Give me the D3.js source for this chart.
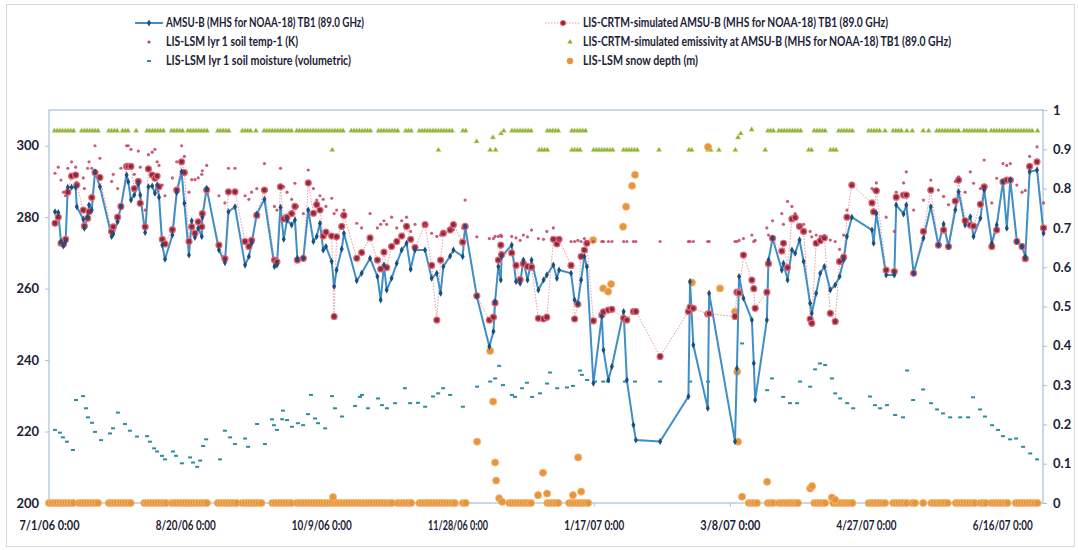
<!DOCTYPE html>
<html>
<head>
<meta charset="utf-8">
<script src="https://cdn.jsdelivr.net/npm/d3@7"></script>
<style>
  body { margin: 0; background: #fff; }
  svg text { font-family: Lato, "Open Sans", sans-serif; font-weight: bold; fill: #1b2236; }
</style>
</head>
<body>
<svg id="chart" width="1078" height="550"></svg>
<script>
// days are counted from 7/1/06 0:00
const obsDays = [
  2.2, 3.4, 4.4, 5.3, 6.1, 6.9, 8.3, 9.8, 10.2, 12.6,
  13.0, 14.2, 14.7, 15.7, 16.9, 18.7, 23.0, 23.6, 25.2, 26.4,
  28.5, 29.1, 30.1, 31.3, 32.8, 33.5, 35.3, 36.5, 37.9, 38.9,
  39.7, 40.4, 41.6, 42.6, 45.3, 46.9, 48.7, 49.7, 51.4, 52.4,
  53.6, 54.8, 56.1, 56.3, 57.9, 62.4, 64.6, 65.9, 68.3, 72.0,
  73.4, 74.4, 76.3, 79.1, 82.8, 83.7, 85.0, 86.2, 87.4, 89.1,
  90.3, 91.2, 93.4, 95.2, 97.1, 98.3, 99.5, 100.7, 101.7, 103.8,
  104.7, 105.6, 107.5, 108.3, 113.0, 114.8, 117.9, 120.6, 121.8, 123.0,
  124.0, 125.8, 127.7, 129.5, 131.3, 132.8, 134.4, 138.1, 140.5, 142.4,
  143.8, 144.8, 147.3, 148.5, 151.9, 152.8, 157.1, 161.7, 163.2, 163.8,
  165.0, 165.9, 166.2, 169.9, 171.5, 173.0, 174.2, 175.7, 177.2, 179.7,
  181.6, 182.8, 185.2, 186.5, 187.3, 191.7, 193.0, 194.2, 195.4, 196.6,
  197.5, 199.9, 203.0, 203.6, 205.4, 206.7, 211.0, 212.2, 214.6, 215.5,
  224.4, 234.8, 235.4, 236.6, 241.9, 242.4, 251.9, 252.6, 253.4, 255.0,
  258.1, 258.8, 259.3, 263.6, 264.2, 265.7, 269.1, 269.7, 271.2, 272.8,
  274.0, 275.6, 277.1, 279.5, 280.1, 281.7, 283.2, 284.7, 286.9, 288.7,
  290.3, 291.8, 293.0, 294.8, 302.2, 302.8, 303.8, 307.4, 310.4, 311.1,
  313.8, 314.8, 317.5, 321.1, 323.8, 326.6, 328.5, 330.3, 332.8, 334.0,
  336.4, 338.3, 339.5, 342.0, 343.4, 346.2, 348.0, 350.3, 351.7, 353.0,
  355.4, 357.3, 358.5, 360.1, 362.8, 365.2
];
const amsuTb = [
  281.5, 281.3, 273.2, 271.9, 273.2, 288.4, 288.4, 288.4, 282.9, 279.4,
  276.9, 280.1, 283.4, 282.0, 292.7, 288.5, 274.6, 275.3, 278.7, 282.9,
  291.8, 289.9, 284.8, 286.2, 289.3, 286.2, 275.7, 288.5, 288.7, 286.7,
  289.0, 285.6, 272.2, 268.2, 275.0, 286.9, 292.7, 283.9, 269.4, 279.0,
  274.4, 276.9, 274.6, 280.0, 288.1, 270.8, 267.3, 281.5, 282.9, 266.6,
  269.0, 272.7, 280.9, 285.0, 266.2, 266.6, 282.8, 273.8, 279.2, 277.8,
  279.2, 268.5, 268.5, 282.0, 273.2, 274.6, 278.3, 270.8, 271.8, 267.6,
  260.6, 265.2, 271.1, 275.5, 262.2, 264.3, 268.5, 263.4, 256.8, 266.6,
  259.6, 262.9, 267.1, 270.8, 272.7, 265.4, 270.8, 270.8, 262.9, 264.3,
  258.7, 266.2, 269.1, 270.8, 269.0, 277.4, 257.8, 243.8, 248.0, 256.4,
  266.2, 262.4, 269.0, 272.2, 262.0, 261.5, 268.0, 262.4, 268.0, 259.6,
  262.4, 263.8, 266.6, 262.9, 265.2, 264.3, 256.8, 255.9, 262.4, 269.0,
  266.2, 233.5, 252.2, 242.8, 234.4, 238.2, 253.6, 234.4, 221.8, 217.6,
  217.2, 229.8, 262.0, 244.2, 226.5, 258.7, 217.2, 237.7, 263.4, 257.3,
  251.2, 239.1, 228.8, 251.2, 268.0, 274.1, 265.2, 267.1, 262.4, 270.8,
  269.9, 273.6, 267.6, 255.9, 253.1, 258.7, 264.3, 266.2, 259.6, 261.0,
  263.4, 268.0, 274.6, 280.0, 276.4, 272.7, 281.1, 263.8, 263.8, 283.4,
  280.9, 283.4, 264.3, 274.1, 282.9, 272.2, 278.1, 271.8, 282.0, 287.1,
  277.8, 280.1, 274.6, 279.7, 287.6, 272.7, 277.8, 289.9, 276.9, 290.4,
  273.2, 271.8, 269.0, 292.7, 293.2, 275.5
];
const crtmTb = [
  278.3, 280.0, 272.7, 272.5, 273.8, 287.0, 291.5, 291.8, 289.0, 282.0,
  277.5, 279.7, 281.5, 285.5, 292.5, 291.1, 276.0, 277.3, 280.0, 283.0,
  294.2, 294.2, 294.2, 288.0, 290.0, 283.9, 277.3, 293.5, 291.8, 290.9,
  291.5, 288.5, 273.8, 272.5, 276.5, 287.6, 295.5, 292.5, 273.2, 277.3,
  275.5, 278.7, 277.3, 281.0, 287.6, 272.2, 268.4, 287.1, 287.1, 273.2,
  271.8, 273.5, 280.5, 287.6, 268.0, 267.5, 288.5, 279.5, 280.0, 281.0,
  283.0, 268.0, 268.5, 289.6, 281.1, 283.5, 282.0, 274.7, 275.8, 274.7,
  252.2, 274.5, 277.4, 280.5, 268.5, 270.1, 274.2, 268.0, 265.5, 270.2,
  265.9, 271.8, 273.2, 274.7, 277.4, 273.8, 271.5, 277.9, 266.5, 251.2,
  268.0, 275.5, 276.4, 277.9, 273.0, 277.4, 258.0, 251.2, 252.0, 256.0,
  268.0, 272.2, 269.5, 270.0, 266.5, 262.5, 267.0, 266.2, 266.0, 251.7,
  251.5, 252.0, 273.8, 272.5, 273.8, 266.5, 251.5, 255.6, 269.0, 270.8,
  272.7, 251.0, 252.6, 253.5, 254.0, 254.2, 251.7, 251.2, 253.6, 253.6,
  241.0, 253.6, 254.8, 254.5, 252.9, 253.0, 252.2, 259.0, 258.8, 269.4,
  262.4, 260.0, 254.5, 259.0, 267.0, 274.1, 270.5, 272.7, 265.9, 279.5,
  279.9, 277.4, 276.0, 251.5, 250.3, 272.7, 273.4, 274.2, 253.1, 250.8,
  267.6, 268.8, 280.0, 289.0, 284.0, 281.5, 287.4, 265.2, 264.8, 285.6,
  286.2, 286.2, 264.3, 276.0, 287.6, 272.2, 276.4, 271.8, 284.5, 290.4,
  279.0, 277.8, 277.5, 283.6, 288.5, 271.8, 276.4, 289.9, 290.4, 290.4,
  273.2, 271.8, 268.4, 294.2, 295.5, 277.0
];
const soilTempK = [
  292.3, 294.0, 290.4, 287.0, 286.0, 293.7, 295.5, 294.0, 289.6, 291.0,
  288.0, 293.7, 295.5, 293.7, 300.0, 296.5, 290.0, 292.0, 288.0, 293.7,
  300.0, 300.0, 299.0, 292.0, 298.5, 294.0, 282.0, 297.5, 298.2, 299.0,
  295.5, 294.5, 289.0, 286.0, 291.0, 295.5, 300.0, 297.0, 287.0, 290.5,
  290.5, 291.0, 292.0, 293.0, 294.5, 286.0, 284.0, 293.7, 293.7, 286.0,
  285.0, 287.0, 288.0, 295.0, 283.0, 282.0, 293.7, 288.5, 287.0, 285.0,
  289.5, 283.0, 281.0, 293.2, 288.0, 284.8, 286.0, 285.0, 283.0, 285.3,
  281.0, 282.0, 280.5, 282.0, 278.3, 277.0, 281.0, 277.0, 278.0, 279.0,
  278.0, 280.0, 277.0, 279.0, 280.0, 276.0, 278.0, 277.8, 275.5, 274.6,
  275.0, 276.0, 277.0, 276.5, 277.0, 284.8, 274.5, 274.0, 274.0, 274.6,
  274.6, 275.0, 274.6, 274.6, 274.2, 273.5, 275.0, 274.5, 276.4, 274.0,
  273.8, 276.0, 277.0, 274.0, 273.5, 273.2, 273.2, 273.5, 273.2, 274.0,
  273.2, 273.2, 273.2, 273.2, 273.2, 273.2, 273.2, 273.2, 273.2, 273.2,
  273.2, 273.2, 273.2, 273.2, 273.2, 273.2, 273.2, 273.2, 273.5, 274.0,
  275.0, 273.2, 273.5, 277.0, 275.0, 279.0, 281.0, 278.0, 284.4, 283.0,
  281.0, 277.5, 278.0, 276.0, 274.5, 275.0, 274.6, 274.8, 273.6, 273.2,
  271.0, 275.0, 282.0, 289.5, 288.0, 287.6, 289.6, 280.0, 276.0, 287.0,
  289.6, 292.7, 282.0, 284.8, 290.4, 287.6, 285.8, 283.5, 290.0, 291.3,
  287.0, 292.7, 289.5, 288.0, 296.0, 284.0, 290.9, 295.0, 294.5, 295.0,
  289.0, 287.0, 287.5, 297.0, 299.7, 284.0
];

const moistDays = [
  2.2, 4.0, 5.1, 6.6, 8.8, 9.9, 12.5, 13.6, 14.3, 15.8,
  16.9, 19.1, 22.4, 23.5, 25.3, 27.9, 29.7, 32.3, 36.0, 37.1,
  38.6, 39.7, 41.5, 42.6, 45.5, 46.6, 48.8, 51.8, 52.9, 54.4,
  55.5, 56.6, 57.7, 62.8, 64.6, 66.5, 68.3, 72.0, 73.1, 76.4,
  79.3, 81.9, 82.6, 83.7, 85.6, 85.9, 87.4, 89.2, 91.4, 93.3,
  95.1, 96.2, 97.7, 98.8, 101.4, 103.9, 105.0, 107.6, 112.4, 114.2,
  114.9, 117.1, 120.8, 122.3, 124.1, 127.1, 130.7, 132.6, 135.5, 138.1,
  141.0, 142.9, 144.7, 147.3, 152.0, 157.2, 162.0, 163.8, 165.3, 166.7,
  170.0, 171.1, 173.7, 175.5, 177.4, 180.3, 182.9, 184.0, 186.6, 190.2,
  192.4, 195.0, 195.7, 197.6, 200.5, 203.5, 205.3, 211.5, 215.2, 224.4,
  235.4, 242.0, 254.5, 263.7, 265.5, 269.6, 272.1, 274.7, 275.8, 279.5,
  281.3, 283.1, 285.0, 287.5, 288.7, 290.5, 293.1, 295.3, 301.5, 303.3,
  305.2, 307.7, 310.7, 313.6, 315.1, 317.3, 321.0, 323.9, 326.1, 328.3,
  330.9, 334.6, 337.5, 339.3, 341.9, 343.7, 346.3, 348.5, 350.3, 352.9,
  355.1, 357.7, 360.3, 362.8
];
const moistVal = [
  0.186, 0.179, 0.167, 0.156, 0.135, 0.262, 0.272, 0.241, 0.218, 0.204,
  0.181, 0.160, 0.177, 0.190, 0.230, 0.201, 0.184, 0.169, 0.170, 0.156,
  0.139, 0.131, 0.120, 0.111, 0.131, 0.120, 0.101, 0.116, 0.103, 0.092,
  0.108, 0.145, 0.162, 0.111, 0.184, 0.167, 0.150, 0.164, 0.143, 0.201,
  0.150, 0.213, 0.198, 0.186, 0.213, 0.235, 0.211, 0.194, 0.203, 0.198,
  0.226, 0.275, 0.215, 0.203, 0.190, 0.272, 0.241, 0.220, 0.247, 0.270,
  0.275, 0.241, 0.266, 0.249, 0.241, 0.254, 0.292, 0.254, 0.255, 0.245,
  0.271, 0.279, 0.292, 0.275, 0.245, 0.296, 0.309, 0.317, 0.349, 0.300,
  0.275, 0.270, 0.292, 0.306, 0.270, 0.279, 0.304, 0.332, 0.292, 0.294,
  0.298, 0.337, 0.326, 0.313, 0.309, 0.309, 0.309, 0.309, 0.309, 0.309,
  0.309, 0.309, 0.406, 0.287, 0.317, 0.270, 0.254, 0.254, 0.309, 0.296,
  0.340, 0.355, 0.351, 0.317, 0.279, 0.266, 0.254, 0.241, 0.271, 0.249,
  0.241, 0.249, 0.224, 0.218, 0.337, 0.262, 0.289, 0.254, 0.238, 0.228,
  0.218, 0.218, 0.218, 0.269, 0.238, 0.220, 0.198, 0.186, 0.170, 0.162,
  0.164, 0.143, 0.126, 0.111
];

// emissivity: [first day, last day, value] for runs of daily values
const emisRuns = [
  [2, 9, 0.947], [12, 18, 0.947], [22, 25, 0.947], [27, 29, 0.947], [32, 32, 0.947],
  [36, 42, 0.947], [45, 49, 0.947], [51, 58, 0.947], [62, 66, 0.947], [71, 74, 0.947],
  [76, 76, 0.947], [79, 80, 0.947], [81, 89, 0.947], [91, 108, 0.947], [111, 118, 0.947],
  [121, 128, 0.947], [131, 133, 0.947], [136, 148, 0.947], [152, 153, 0.947], [166, 166, 0.940],
  [167, 167, 0.947], [170, 177, 0.947], [183, 187, 0.947], [192, 197, 0.947],
  [104, 104, 0.898], [143, 143, 0.898], [157, 157, 0.920], [162, 162, 0.898], [163, 163, 0.930],
  [164, 164, 0.898], [180, 183, 0.898], [192, 195, 0.898], [200, 207, 0.898], [211, 216, 0.898],
  [224, 224, 0.898], [235, 236, 0.898], [242, 243, 0.898], [246, 246, 0.898], [252, 252, 0.898],
  [253, 253, 0.930], [254, 254, 0.940], [258, 258, 0.950], [263, 263, 0.898],
  [264, 266, 0.947], [268, 276, 0.947], [279, 280, 0.898], [281, 285, 0.947], [287, 289, 0.898],
  [290, 295, 0.947], [301, 305, 0.947], [307, 307, 0.947], [310, 313, 0.947], [315, 315, 0.947],
  [317, 317, 0.947], [321, 321, 0.947], [323, 323, 0.947], [326, 331, 0.947], [332, 334, 0.947],
  [336, 341, 0.947], [342, 344, 0.947], [346, 353, 0.947], [354, 361, 0.947], [363, 363, 0.947]
];

// snow depth: runs of zero depth, then the non-zero days
const snowZeroRuns = [
  [0, 9], [11, 18], [22, 30], [35, 43], [45, 58], [62, 69], [71, 78], [82, 89],
  [91, 126], [128, 133], [136, 149], [152, 153], [169, 177], [183, 187], [191, 198],
  [257, 260], [264, 266], [268, 275], [281, 285], [288, 295], [301, 305], [306, 307],
  [310, 315], [317, 318], [321, 321], [324, 330], [333, 340], [342, 344], [346, 352], [355, 363]
];
const snowDays = [
  104.3, 157.2, 162.0, 163.1, 163.8, 164.2, 165.3, 166.4, 179.6, 181.4,
  182.9, 192.4, 194.3, 195.4, 199.8, 203.5, 205.3, 206.4, 210.8, 211.9,
  214.1, 215.2, 236.1, 242.0, 246.4, 251.9, 252.7, 253.0, 254.5, 263.7,
  279.5, 280.2, 287.5, 288.7
];
const snowVal = [
  0.015, 0.156, 0.387, 0.258, 0.103, 0.057, 0.012, 0.003, 0.020, 0.077,
  0.024, 0.020, 0.116, 0.029, 0.669, 0.546, 0.538, 0.557, 0.703, 0.754,
  0.807, 0.835, 0.561, 0.906, 0.546, 0.487, 0.334, 0.156, 0.016, 0.054,
  0.037, 0.043, 0.014, 0.008
];

const xTickDays = [0, 50, 100, 150, 200, 250, 300, 350];
const leftTicks = [200, 220, 240, 260, 280, 300];
const rightTicks = [0, 0.1, 0.2, 0.3, 0.4, 0.5, 0.6, 0.7, 0.8, 0.9, 1];

const legendItems = [
  { text: 'AMSU-B (MHS for NOAA-18) TB1 (89.0 GHz)', kind: 'amsu', w: 198 },
  { text: 'LIS-CRTM-simulated AMSU-B (MHS for NOAA-18) TB1 (89.0 GHz)', kind: 'crtm', w: 305 },
  { text: 'LIS-LSM lyr 1 soil temp-1 (K)', kind: 'soil', w: 132 },
  { text: 'LIS-CRTM-simulated emissivity at AMSU-B (MHS for NOAA-18) TB1 (89.0 GHz)', kind: 'emis', w: 368 },
  { text: 'LIS-LSM lyr 1 soil moisture (volumetric)', kind: 'moist', w: 185 },
  { text: 'LIS-LSM snow depth (m)', kind: 'snow', w: 115 }
];

const t0 = new Date(2006, 6, 1);
const toDate = d => new Date(t0.getTime() + d * 864e5);

const plot = { left: 49, right: 1043, top: 110, bottom: 503 };
const colors = {
  amsuLine: '#3f8fc6', amsuMark: '#1c4f7c',
  crtmLine: '#e59aa6', crtmFill: '#8c2a3c', crtmEdge: '#e06a78',
  soil: '#c2405e', emis: '#86ac32', moist: '#2a8c9c', snow: '#e8943a'
};

const svg = d3.select('#chart');

svg.append('rect').attr('x', 6.5).attr('y', 4.5).attr('width', 1068).attr('height', 542)
  .attr('fill', '#fff').attr('stroke', '#d9d9d9');

const x = d3.scaleTime().domain([t0, d3.timeDay.offset(t0, 365)]).range([plot.left, plot.right]);
const yL = d3.scaleLinear().domain([200, 310]).range([plot.bottom, plot.top]);
const yR = d3.scaleLinear().domain([0, 1]).range([plot.bottom, plot.top]);

// plot area frame
svg.append('rect').attr('x', plot.left).attr('y', plot.top)
  .attr('width', plot.right - plot.left).attr('height', plot.bottom - plot.top)
  .attr('fill', 'none').attr('stroke', '#a9c0d8').attr('stroke-width', 1.2);

// axes
const axisStyle = g => {
  g.select('.domain').remove();
  g.selectAll('.tick line').attr('stroke', '#a9c0d8');
  g.selectAll('.tick text').attr('font-size', 13).attr('fill', '#1b2236');
};
svg.append('g').attr('transform', 'translate(' + plot.left + ',0)')
  .call(d3.axisLeft(yL).tickValues(leftTicks).tickSize(4).tickPadding(6))
  .call(axisStyle);
svg.append('g').attr('transform', 'translate(' + plot.right + ',0)')
  .call(d3.axisRight(yR).tickValues(rightTicks).tickSize(4).tickPadding(6).tickFormat(d3.format('~g')))
  .call(axisStyle);
svg.append('g').attr('transform', 'translate(0,' + plot.bottom + ')')
  .call(d3.axisBottom(x).tickValues(xTickDays.map(d => d3.timeDay.offset(t0, d)))
    .tickSize(4).tickPadding(14).tickFormat(d3.timeFormat('%-m/%-d/%y 0:00')))
  .call(axisStyle)
  .call(g => g.selectAll('.tick text').attr('textLength', 60).attr('lengthAdjust', 'spacingAndGlyphs'));

const obs = obsDays.map((d, i) => ({ date: toDate(d), amsu: amsuTb[i], crtm: crtmTb[i], soil: soilTempK[i] }));

// soil moisture (right axis)
svg.append('g').selectAll('rect').data(moistDays).join('rect')
  .attr('x', (d) => x(toDate(d)) - 2).attr('y', (d, i) => yR(moistVal[i]) - 1)
  .attr('width', 4).attr('height', 2).attr('fill', colors.moist);

// emissivity (right axis)
const emis = [];
emisRuns.forEach(r => { for (let d = r[0]; d <= r[1]; d++) emis.push({ day: d, v: r[2] }); });
const tri = d3.symbol().type(d3.symbolTriangle).size(12);
svg.append('g').selectAll('path').data(emis).join('path')
  .attr('d', tri).attr('transform', d => 'translate(' + x(toDate(d.day)) + ',' + yR(d.v) + ')')
  .attr('fill', colors.emis).attr('stroke', '#cddc8a').attr('stroke-width', 0.6);

// snow depth (right axis)
const snow = [];
snowZeroRuns.forEach(r => { for (let d = r[0]; d <= r[1]; d++) snow.push({ day: d, v: 0 }); });
snowDays.forEach((d, i) => snow.push({ day: d, v: snowVal[i] }));
svg.append('g').selectAll('circle').data(snow).join('circle')
  .attr('cx', d => x(toDate(d.day))).attr('cy', d => yR(d.v)).attr('r', 3.6)
  .attr('fill', colors.snow).attr('stroke', '#f3b978').attr('stroke-width', 0.8);

// simulated TB, dotted
svg.append('path').datum(obs)
  .attr('fill', 'none').attr('stroke', colors.crtmLine).attr('stroke-width', 1)
  .attr('stroke-dasharray', '1.5,1.5')
  .attr('d', d3.line().x(d => x(d.date)).y(d => yL(d.crtm)));

// observed TB line
svg.append('path').datum(obs)
  .attr('fill', 'none').attr('stroke', colors.amsuLine).attr('stroke-width', 2)
  .attr('d', d3.line().x(d => x(d.date)).y(d => yL(d.amsu)));

svg.append('g').selectAll('circle').data(obs).join('circle')
  .attr('cx', d => x(d.date)).attr('cy', d => yL(d.crtm)).attr('r', 3)
  .attr('fill', colors.crtmFill).attr('stroke', colors.crtmEdge).attr('stroke-width', 1.2);

const diamond = d3.symbol().type(d3.symbolDiamond).size(14);
svg.append('g').selectAll('path').data(obs).join('path')
  .attr('d', diamond).attr('transform', d => 'translate(' + x(d.date) + ',' + yL(d.amsu) + ')')
  .attr('fill', colors.amsuMark);

// soil temperature
svg.append('g').selectAll('circle').data(obs).join('circle')
  .attr('cx', d => x(d.date)).attr('cy', d => yL(d.soil)).attr('r', 1.6)
  .attr('fill', colors.soil).attr('opacity', 0.85);

// legend
const legend = svg.append('g');
legendItems.forEach((item, i) => {
  const col = i % 2, row = Math.floor(i / 2);
  const sx = col === 0 ? 149 : 563, tx = col === 0 ? 166 : 583, ly = 23 + row * 19;
  const g = legend.append('g');
  if (item.kind === 'amsu') {
    g.append('line').attr('x1', 135).attr('x2', 163).attr('y1', ly).attr('y2', ly)
      .attr('stroke', colors.amsuLine).attr('stroke-width', 2);
    g.append('path').attr('d', diamond).attr('transform', 'translate(' + sx + ',' + ly + ')').attr('fill', colors.amsuMark);
  } else if (item.kind === 'crtm') {
    g.append('line').attr('x1', 545).attr('x2', 580).attr('y1', ly).attr('y2', ly)
      .attr('stroke', colors.crtmLine).attr('stroke-dasharray', '1.5,1.5');
    g.append('circle').attr('cx', sx).attr('cy', ly).attr('r', 2.6)
      .attr('fill', colors.crtmFill).attr('stroke', colors.crtmEdge);
  } else if (item.kind === 'soil') {
    g.append('circle').attr('cx', sx).attr('cy', ly).attr('r', 1.6).attr('fill', colors.soil);
  } else if (item.kind === 'emis') {
    g.append('path').attr('d', tri).attr('transform', 'translate(' + (sx + 7) + ',' + ly + ')')
      .attr('fill', colors.emis);
  } else if (item.kind === 'moist') {
    g.append('rect').attr('x', sx - 2).attr('y', ly - 1).attr('width', 4).attr('height', 2).attr('fill', colors.moist);
  } else {
    g.append('circle').attr('cx', sx + 7).attr('cy', ly).attr('r', 3.2).attr('fill', colors.snow);
  }
  g.append('text').attr('x', tx).attr('y', ly).attr('dy', '0.35em')
    .attr('font-size', 12.5).attr('textLength', item.w).attr('lengthAdjust', 'spacingAndGlyphs')
    .text(item.text);
});
</script>
</body>
</html>
